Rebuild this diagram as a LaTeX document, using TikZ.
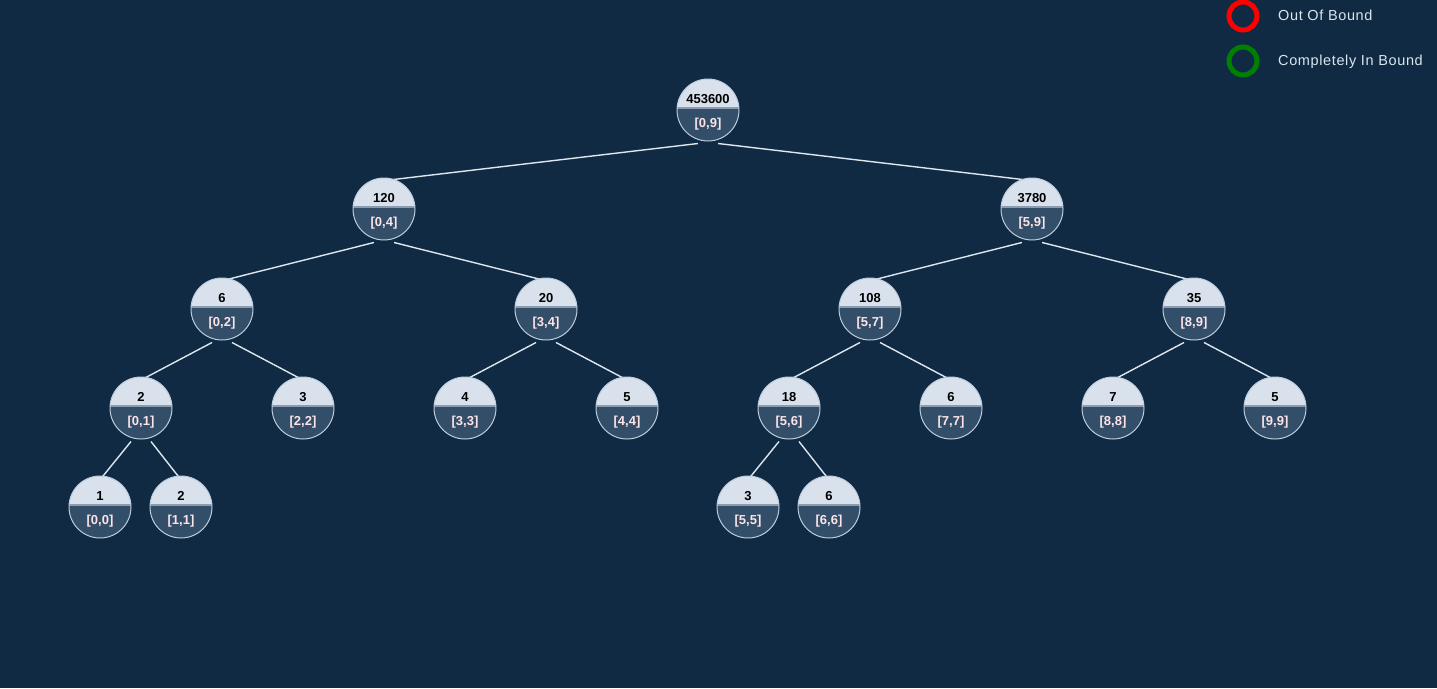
\documentclass[tikz,border=0pt]{standalone}
\usepackage{fontspec}
\setmainfont{Liberation Sans}
\newfontfamily\legendfont[LetterSpace=4.3]{Liberation Sans}
\usetikzlibrary{backgrounds,calc}
\definecolor{bgc}{RGB}{16,42,67}
\definecolor{nodetop}{RGB}{217,226,236}
\definecolor{nodebot}{RGB}{51,78,104}
\definecolor{nodeband}{RGB}{140,156,176}
\definecolor{nodeline}{RGB}{188,204,220}
\definecolor{edgec}{RGB}{222,230,238}
\definecolor{rangetxt}{RGB}{252,228,232}
\definecolor{legtxt}{RGB}{217,230,236}
\definecolor{legred}{RGB}{255,0,0}
\definecolor{leggreen}{RGB}{0,128,0}
\tikzset{
  segnode/.style={circle, minimum size=62pt, inner sep=0pt, draw=nodeline, line width=1pt,
    align=center, font=\fontsize{13}{24}\selectfont\bfseries,
    path picture={
      \coordinate (ppc) at (path picture bounding box.center);
      \fill[nodetop] ([shift={(-40pt,3pt)}]ppc) rectangle ([shift={(40pt,40pt)}]ppc);
      \fill[nodeband] ([shift={(-40pt,0.6pt)}]ppc) rectangle ([shift={(40pt,3pt)}]ppc);
      \fill[nodebot] ([shift={(-40pt,-40pt)}]ppc) rectangle ([shift={(40pt,0.6pt)}]ppc);
    }},
  edge/.style={draw=edgec, line width=1.4pt},
  legring/.style={circle, minimum size=28pt, inner sep=0pt, line width=5pt},
  legtext/.style={anchor=base west, inner sep=0pt, text=legtxt, font=\fontsize{14.5}{17}\legendfont}
}
\newcommand\mknode[4]{\node[segnode] (#1) at (#2) {\rule{0pt}{13.2pt}\textcolor{black}{#3}\\\textcolor{rangetxt}{#4}};}
\begin{document}
\begin{tikzpicture}[x=1pt,y=-1pt]
\begin{pgfonlayer}{background}
\fill[bgc] (0,0) rectangle (1437,688);
\end{pgfonlayer}
\useasboundingbox (0,0) rectangle (1437,688);

\mknode{root}{708,110}{453600}{[0,9]}
\mknode{a}{384,209}{120}{[0,4]}
\mknode{b}{1032,209}{3780}{[5,9]}
\mknode{a1}{222,309}{6}{[0,2]}
\mknode{a2}{546,309}{20}{[3,4]}
\mknode{b1}{870,309}{108}{[5,7]}
\mknode{b2}{1194,309}{35}{[8,9]}
\mknode{c1}{141,408}{2}{[0,1]}
\mknode{c2}{303,408}{3}{[2,2]}
\mknode{c3}{465,408}{4}{[3,3]}
\mknode{c4}{627,408}{5}{[4,4]}
\mknode{c5}{789,408}{18}{[5,6]}
\mknode{c6}{951,408}{6}{[7,7]}
\mknode{c7}{1113,408}{7}{[8,8]}
\mknode{c8}{1275,408}{5}{[9,9]}
\mknode{d1}{100,507}{1}{[0,0]}
\mknode{d2}{181,507}{2}{[1,1]}
\mknode{d3}{748,507}{3}{[5,5]}
\mknode{d4}{829,507}{6}{[6,6]}

\begin{pgfonlayer}{background}
\foreach \p/\c/\s in {root/a/-1,root/b/1,a/a1/-1,a/a2/1,b/b1/-1,b/b2/1,a1/c1/-1,a1/c2/1,a2/c3/-1,a2/c4/1,b1/c5/-1,b1/c6/1,b2/c7/-1,b2/c8/1,c1/d1/-1,c1/d2/1,c5/d3/-1,c5/d4/1}
  \draw[edge] ($(\p.south)+(\s*10,2)$) -- ($(\c.north)+(-\s*1,3)$);
\end{pgfonlayer}

\node[legring, draw=legred] (legout) at (1243,16) {};
\node[legring, draw=leggreen] (legin) at (1243,61) {};
\node[legtext] (legouttxt) at (1278,20) {Out Of Bound};
\node[legtext] (legintxt) at (1278,65) {Completely In Bound};
\end{tikzpicture}
\end{document}
